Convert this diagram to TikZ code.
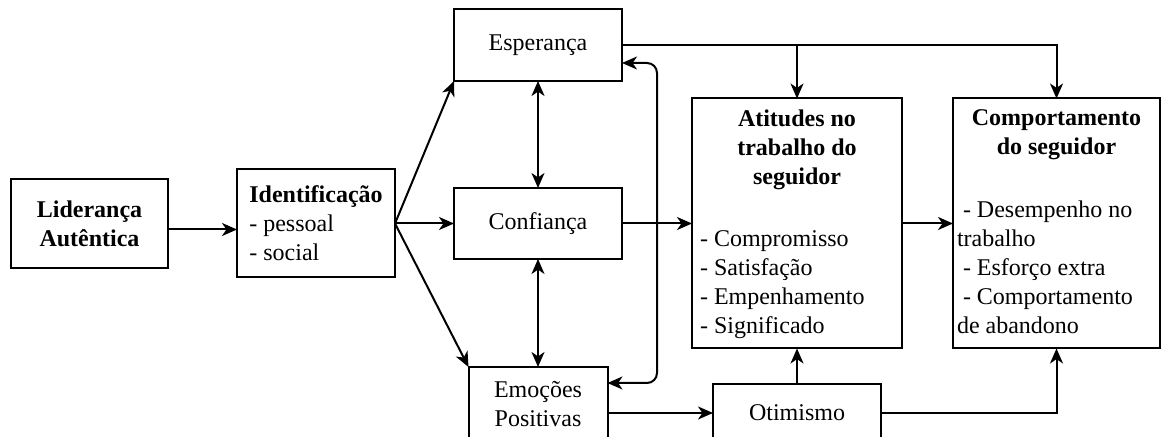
\documentclass[tikz,border=0pt]{standalone}
\usepackage{fontspec}
\setmainfont{Liberation Serif}
\usetikzlibrary{arrows.meta,positioning}
\newcommand{\diagfont}{\fontsize{12}{14.5}\selectfont}

\begin{document}
\begin{tikzpicture}[x=0.5pt, y=-0.5pt, line width=1pt, font=\diagfont,
    >={Stealth[length=7.5pt,width=6.5pt,inset=2.2pt]},
    box/.style={draw, rectangle, outer sep=0pt, align=center},
    title/.style={inner sep=0pt, outer sep=0pt, align=center, font=\diagfont\bfseries},
    list/.style={inner sep=0pt, outer sep=0pt, align=left}]
    \useasboundingbox (0,0) rectangle (1161,437);
    \clip (0,0) rectangle (1161,437);
    \node[box, minimum width=78.5pt, minimum height=44.5pt, font=\diagfont\bfseries] (lider) at (89.5,223.5) {Liderança\\Autêntica};
    \node[box, right=34.5pt of lider, minimum width=79pt, minimum height=54pt, align=left] (ident) {\textbf{Identificação}\\- pessoal\\- social};
    \node[box, right=29.5pt of ident, minimum width=84pt, minimum height=35.5pt] (conf) {Confiança};
    \node[box, above=53.5pt of conf, minimum width=84pt, minimum height=36pt] (esp) {Esperança};
    \node[box, below=54pt of conf, minimum width=69.5pt, minimum height=37pt] (emo) {Emoções\\Positivas};
    \node[box, right=35pt of conf, minimum width=105pt, minimum height=125pt] (atit) {};
    \node[box, right=25.5pt of atit, minimum width=103.5pt, minimum height=125pt] (comp) {};
    \node[box, below=18pt of atit, minimum width=84pt, minimum height=28.5pt] (otim) {Otimismo};
    \node[title, below=5.8pt of atit.north] (atit-title) {Atitudes no\\trabalho do\\seguidor};
    \node[list, above right=5pt and 4pt of atit.south west] (atit-list) {- Compromisso\\- Satisfação\\- Empenhamento\\- Significado};
    \node[title, below=5.8pt of comp.north] (comp-title) {Comportamento\\do seguidor};
    \node[list, above right=7.5pt and 2pt of comp.south west] (comp-list) {~- Desempenho no\\trabalho\\~- Esforço extra\\~- Comportamento\\de abandono};
    \draw[->] ([yshift=-3pt]lider.east) -- ([yshift=-3pt]lider.east -| ident.west);
    \draw[->] (ident.east) -- (esp.south west);
    \draw[->] (ident.east) -- (conf.west);
    \draw[->] (ident.east) -- (emo.north west);
    \draw[<->] (esp) -- (conf);
    \draw[<->] (conf) -- (emo);
    \draw[<->, rounded corners=5pt] ([yshift=-9pt]esp.east) -- ++(17.5pt,0) |- ([yshift=10.5pt]emo.east);
    \draw[->] (conf) -- (atit);
    \draw[->] (atit) -- (comp);
    \draw[->] (emo.east |- otim.west) -- (otim.west);
    \draw[->] (otim) -- (atit);
    \draw[->] (otim.east) -| (comp.south);
    \draw[->] (esp.east) -| (comp.north);
    \draw[->] (esp.east -| atit.north) -- (atit.north);
\end{tikzpicture}
\end{document}
